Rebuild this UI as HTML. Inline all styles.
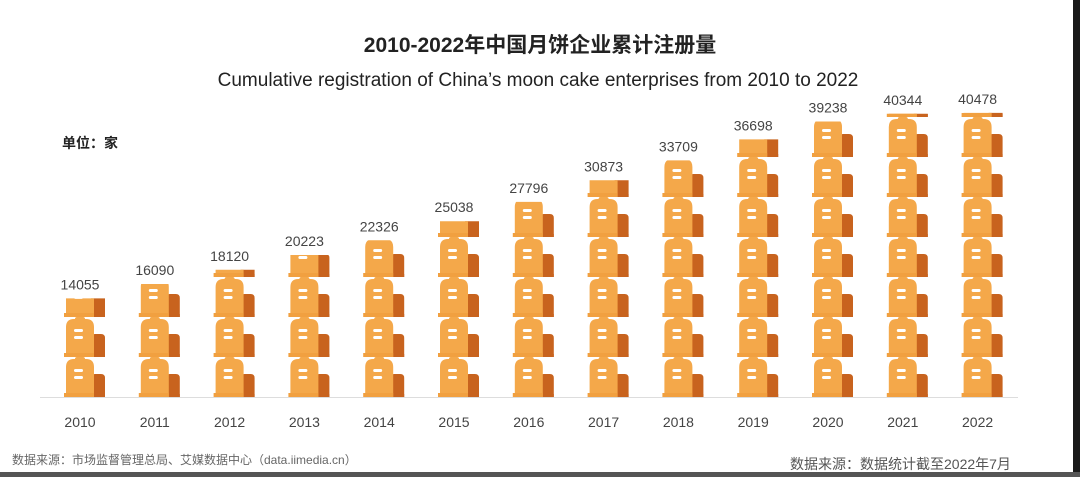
<!DOCTYPE html>
<html><head><meta charset="utf-8"><style>
html,body{margin:0;padding:0;background:#fff;}
body{width:1080px;height:477px;overflow:hidden;position:relative;font-family:"Liberation Sans","Noto Sans CJK SC",sans-serif;}
svg text{font-family:"Liberation Sans","Noto Sans CJK SC",sans-serif;}
</style></head><body>
<svg id="s" width="1080" height="477" xmlns="http://www.w3.org/2000/svg">
<rect width="1080" height="477" fill="#fff"/>
<text x="540" y="52" text-anchor="middle" font-size="21" font-weight="bold" fill="#222">2010-2022年中国月饼企业累计注册量</text>
<text x="538" y="86" text-anchor="middle" font-size="19" fill="#222">Cumulative registration of China’s moon cake enterprises from 2010 to 2022</text>
<text x="62" y="148" font-size="14" font-weight="bold" fill="#222">单位：家</text>
<line x1="40" y1="397.5" x2="1018" y2="397.5" stroke="#ddd" stroke-width="1"/>
<text x="12" y="464" font-size="12" fill="#666">数据来源：市场监督管理总局、艾媒数据中心（data.iimedia.cn）</text>
<text x="790" y="469" font-size="14" fill="#555">数据来源：数据统计截至2022年7月</text>
<rect x="1073" y="0" width="7" height="477" fill="#1a1a1a"/>
<rect x="0" y="472" width="1080" height="5" fill="#555"/>
<g id="bars"></g>
</svg>
<script>
var vals=[14055,16090,18120,20223,22326,25038,27796,30873,33709,36698,39238,40344,40478];
var g=document.getElementById('bars'),out='',base=397;
vals.forEach(function(v,i){
 var cx=83+i*74.8,h=v*0.00702,top=base-h;
 out+='<clipPath id="c'+i+'"><rect x="'+(cx-30)+'" y="'+top+'" width="60" height="'+h+'"/></clipPath>';
 out+='<g clip-path="url(#c'+i+')">';
 for(var k=0;k<8;k++){
  var yb=base-k*40;
  out+='<path d="M'+(cx+8)+' '+yb+' V'+(yb-19)+' q0 -4 4 -4 h6 q4 0 4 4 V'+yb+' Z" fill="#C8631E"/>';
  out+='<rect x="'+(cx+6)+'" y="'+(yb-3)+'" width="16" height="3" fill="#C8631E"/>';
  out+='<path d="M'+(cx-17)+' '+yb+' V'+(yb-30)+' q0 -8 8 -8 h1 q0 -2 2 -2 h6 q2 0 2 2 h1 q8 0 8 8 V'+yb+' Z" fill="#F4A84A"/>';
  out+='<rect x="'+(cx-19)+'" y="'+(yb-4)+'" width="30" height="4" fill="#F1A040"/>';
  out+='<rect x="'+(cx-9)+'" y="'+(yb-28)+'" width="9" height="3" rx="1.5" fill="#fff"/>';
  out+='<rect x="'+(cx-9)+'" y="'+(yb-21)+'" width="9" height="3" rx="1.5" fill="#fff"/>';
 }
 out+='</g>';
 out+='<text x="'+(cx-3)+'" y="'+(top-9)+'" text-anchor="middle" font-size="14" fill="#444">'+v+'</text>';
 out+='<text x="'+(cx-3)+'" y="427" text-anchor="middle" font-size="14" fill="#444">'+(2010+i)+'</text>';
});
g.innerHTML=out;
</script>
</body></html>
